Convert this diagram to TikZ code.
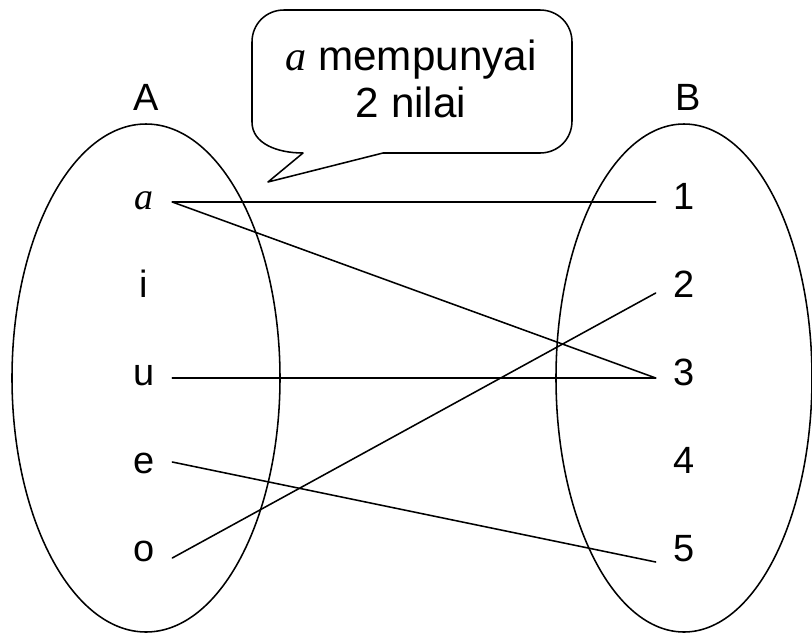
\documentclass[tikz,border=0pt]{standalone}
\usepackage{fontspec}
\setmainfont{Liberation Sans}
\newfontfamily\serifit{Liberation Serif}
\usepackage{tikz}
\newcommand{\ita}{{\serifit\itshape a}}

\begin{document}
\begin{tikzpicture}[
  x=0.025cm, y=-0.025cm, line cap=round, line join=round,
  lbl/.style={font=\fontsize{27}{31}\selectfont, inner sep=0pt,
              minimum width=1.4cm, text height=0.6cm, text depth=0.25cm},
  setline/.style={draw=black, line width=1.1pt},
  rel/.style={draw=black, line width=1.1pt},
  bubble/.style={draw=black, line width=1.1pt}]
\useasboundingbox (0,0) rectangle (812,634);

% ================================================================ sets
\draw[setline] (146,378) ellipse [x radius=134, y radius=254];
\draw[setline] (684,378) ellipse [x radius=128, y radius=254];

\node[lbl] (setA) at (146,103) {A};
\node[lbl] (setB) at (688,103) {B};

% domain
\node[lbl] (a) at (144,202) {\ita};
\node[lbl] (i) at (144,290) {i};
\node[lbl] (u) at (144,378) {u};
\node[lbl] (e) at (144,466) {e};
\node[lbl] (o) at (144,554) {o};

% codomain
\node[lbl] (n1) at (684,202) {1};
\node[lbl] (n2) at (684,290) {2};
\node[lbl] (n3) at (684,378) {3};
\node[lbl] (n4) at (684,466) {4};
\node[lbl] (n5) at (684,554) {5};

% ================================================================ relation
\draw[rel] (a.east) -- (n1.west);
\draw[rel] (a.east) -- (n3.west);
\draw[rel] (u.east) -- (n3.west);
\draw[rel] ([yshift=0.1cm]e.east) -- ([yshift=-0.2cm]n5.west);
\draw[rel] ([yshift=-0.1cm]o.east) -- ([yshift=-0.075cm]n2.west);

% ================================================================ callout
\draw[bubble] (268,182) -- (383,153) -- (540,153)
  .. controls (558,153) and (572,139) .. (572,121) -- (572,42)
  .. controls (572,24) and (558,10) .. (540,10) -- (284,10)
  .. controls (266,10) and (252,24) .. (252,42) -- (252,122)
  .. controls (252,144) and (278,153) .. (303,153) -- cycle;
\node[font=\fontsize{30}{34}\selectfont, align=center, inner sep=0pt] (note)
  at (411,79) {\ita{} mempunyai\\2 nilai};

\end{tikzpicture}
\end{document}
